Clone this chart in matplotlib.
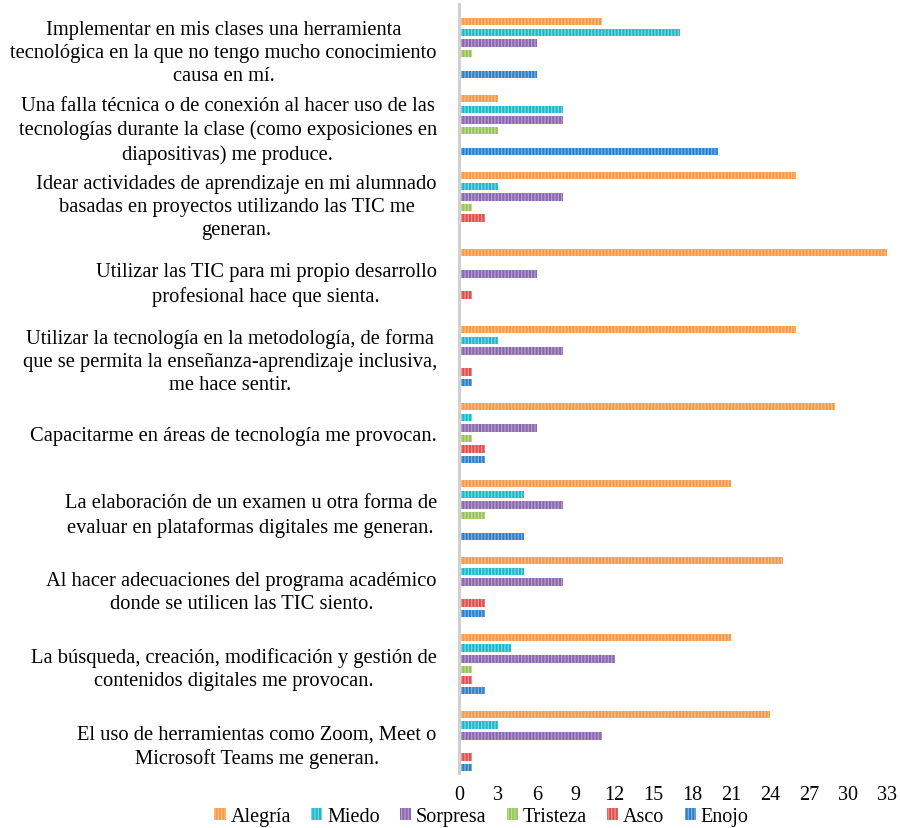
import numpy as np
import matplotlib.pyplot as plt
from matplotlib.patches import Patch

plt.rcParams['font.family'] = ['Liberation Serif', 'DejaVu Serif']
plt.rcParams['hatch.linewidth'] = 0.9

categories = [
    "Implementar en mis clases una herramienta\ntecnológica en la que no tengo mucho conocimiento\ncausa en mí.",
    "Una falla técnica o de conexión al hacer uso de las\ntecnologías durante la clase (como exposiciones en\ndiapositivas) me produce.",
    "Idear actividades de aprendizaje en mi alumnado\nbasadas en proyectos utilizando las TIC me\ngeneran.",
    "Utilizar las TIC para mi propio desarrollo\nprofesional hace que sienta.",
    "Utilizar la tecnología en la metodología, de forma\nque se permita la enseñanza-aprendizaje inclusiva,\nme hace sentir.",
    "Capacitarme en áreas de tecnología me provocan.",
    "La elaboración de un examen u otra forma de\nevaluar en plataformas digitales me generan.",
    "Al hacer adecuaciones del programa académico\ndonde se utilicen las TIC siento.",
    "La búsqueda, creación, modificación y gestión de\ncontenidos digitales me provocan.",
    "El uso de herramientas como Zoom, Meet o\nMicrosoft Teams me generan.",
]
series = ["Alegría", "Miedo", "Sorpresa", "Tristeza", "Asco", "Enojo"]
alegria  = [11, 3, 26, 33, 26, 29, 21, 25, 21, 24]
miedo    = [17, 8, 3, 0, 3, 1, 5, 5, 4, 3]
sorpresa = [6, 8, 8, 6, 8, 6, 8, 8, 12, 11]
tristeza = [1, 3, 1, 0, 0, 1, 2, 0, 1, 0]
asco     = [0, 0, 2, 1, 1, 2, 0, 2, 1, 1]
enojo    = [6, 20, 0, 0, 1, 2, 5, 2, 2, 1]
values = [alegria, miedo, sorpresa, tristeza, asco, enojo]
colors = ["#F79A4A", "#1CB8CC", "#8A69AE", "#98C35A", "#E0504F", "#2F80C8"]
stripes = ["#FFBE85", "#7AD8E4", "#B49DCF", "#C0DE95", "#F29291", "#7FB2E2"]

fig = plt.figure(figsize=(9, 8.29), dpi=100)
ax = fig.add_axes([0.51, 1 - 774 / 829, 0.9856 - 0.51, (774 - 5) / 829])

group_gap = 7.25
centers = np.arange(len(categories)) * group_gap
for k, (name, vals) in enumerate(zip(series, values)):
    ax.barh(centers + (k - 2.5), vals, height=0.7, color=colors[k],
            edgecolor=stripes[k], linewidth=0, hatch='|||||', label=name)

ax.set_ylim(centers[-1] + 3.0, -4.16)
ax.set_xlim(0, 33)
ax.set_xticks(np.arange(0, 34, 3))
ax.set_yticks(centers)
ax.set_yticklabels(categories, fontsize=14.8)
for lbl in ax.get_yticklabels():
    lbl.set_multialignment('center')
    lbl.set_linespacing(1.3)
ax.tick_params(axis='y', length=0, pad=16)
ax.tick_params(axis='x', length=0, pad=9, labelsize=14.5)
for s in ['top', 'right', 'bottom']:
    ax.spines[s].set_visible(False)
ax.spines['left'].set_color('#D0D0D0')
ax.spines['left'].set_linewidth(2.2)

handles = [Patch(facecolor=colors[k], edgecolor=stripes[k], linewidth=0, hatch='|||||')
           for k in range(len(series))]
fig.legend(handles, series, loc='lower center', bbox_to_anchor=(0.535, 0.002), ncol=6,
           frameon=False, fontsize=14.5, handlelength=0.55, handleheight=0.55,
           handletextpad=0.25, columnspacing=1.0, borderpad=0, borderaxespad=0)

fig.savefig('out.png', dpi=100)
